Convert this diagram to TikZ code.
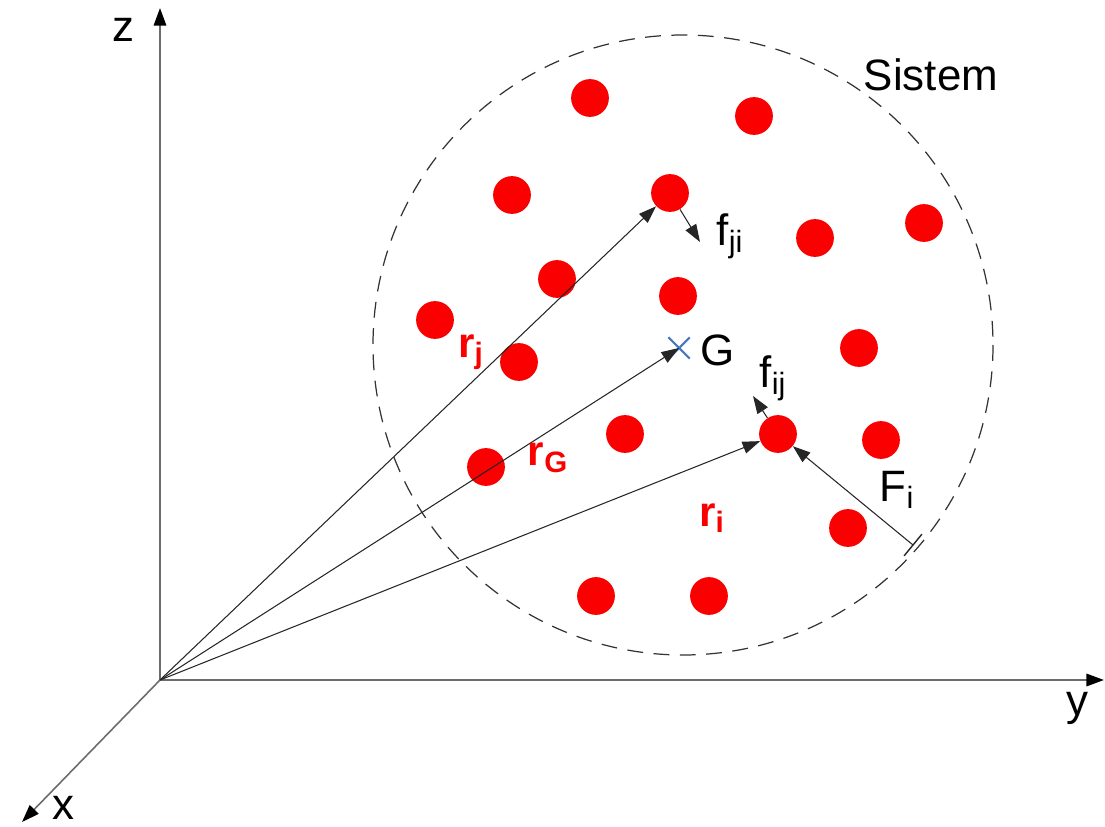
\documentclass[tikz,border=0pt]{standalone}
\usepackage{fontspec}
\setmainfont{Liberation Sans}
\usetikzlibrary{arrows.meta,shapes.misc,calc}
\definecolor{dotred}{RGB}{250,0,0}
\definecolor{gblue}{RGB}{70,120,190}
\tikzset{
  axis/.style={draw=gray!85!black, line width=1.3pt, -{Triangle[length=10pt,width=7pt,color=black]}},
  vec/.style={draw=black!85, line width=0.6pt, -{Triangle[length=10pt,width=7pt]}},
  pdot/.style={circle, fill=dotred, inner sep=0pt, minimum size=21.5pt},
  sys/.style={draw=black!80, line width=0.7pt, dash pattern=on 9pt off 6pt},
  alabel/.style={font=\fontsize{25}{27}\selectfont},
  rlabel/.style={font=\fontsize{24}{26}\selectfont\bfseries, text=dotred},
}
\begin{document}
\begin{tikzpicture}[x=0.02cm,y=-0.02cm]
  \useasboundingbox (0,0) rectangle (1105,827);
  % eksenler
  \coordinate (O) at (160,680);
  \coordinate (zend) at (160,8);
  \coordinate (yend) at (1104,680);
  \coordinate (xend) at (22,822);
  \draw[axis] (O) -- (zend);
  \draw[axis] (O) -- (yend);
  \draw[axis, line width=0.9pt] (O) -- (xend);
  \node[alabel] (zl) at (123,30) {z};
  \node[alabel] (yl) at (1077,708) {y};
  \node[alabel] (xl) at (63,808) {x};
  % sistem sinırı
  \draw[sys] (683,345) circle (310);
  \node[alabel] (sl) at (931,75) {Sistem};
  % parcaciklar
  \foreach \px/\py [count=\k] in {590/98, 754/116, 512/195, 815/238, 924/223,
      557/279, 678/296, 435/320, 519/362, 859/348, 625/434, 881/440,
      486/467, 848/528, 596/596, 709/596}
    \node[pdot] (d\k) at (\px,\py) {};
  \node[pdot] (pj) at (670,193) {};
  \node[pdot] (pi) at (778,434) {};
  % kutle merkezi
  \node[cross out, draw=gblue, line width=1.2pt, minimum size=11pt, inner sep=0pt] (G) at (679,348) {};
  \node[alabel, anchor=west] (Gl) at (694,350) {G};
  % konum vektorleri
  \draw[vec] (O) -- (pj);
  \draw[vec] (O) -- (G.center);
  \draw[vec] (O) -- (pi);
  \node[rlabel] (rj) at (471,352) {r\textsubscript{j}};
  \node[rlabel] (rG) at (548,458) {r\textsubscript{G}};
  \node[rlabel] (ri) at (712,518) {r\textsubscript{i}};
  % ic ve dis kuvvetler
  \coordinate (fjiend) at (700,242);
  \coordinate (fijend) at (753,396);
  \coordinate (Fend) at (913,545);
  \draw[vec] (pj) -- (fjiend);
  \draw[vec] (pi) -- (fijend);
  \draw[vec] (Fend) -- (pi);
  \draw[black!85, line width=0.8pt] ($(Fend)!8pt!90:(pi)$) -- ($(Fend)!8pt!-90:(pi)$);
  \node[alabel] (fji) at (730,236) {f\textsubscript{ji}};
  \node[alabel] (fij) at (773,378) {f\textsubscript{ij}};
  \node[alabel] (Fi) at (897,490) {F\textsubscript{i}};
\end{tikzpicture}
\end{document}
